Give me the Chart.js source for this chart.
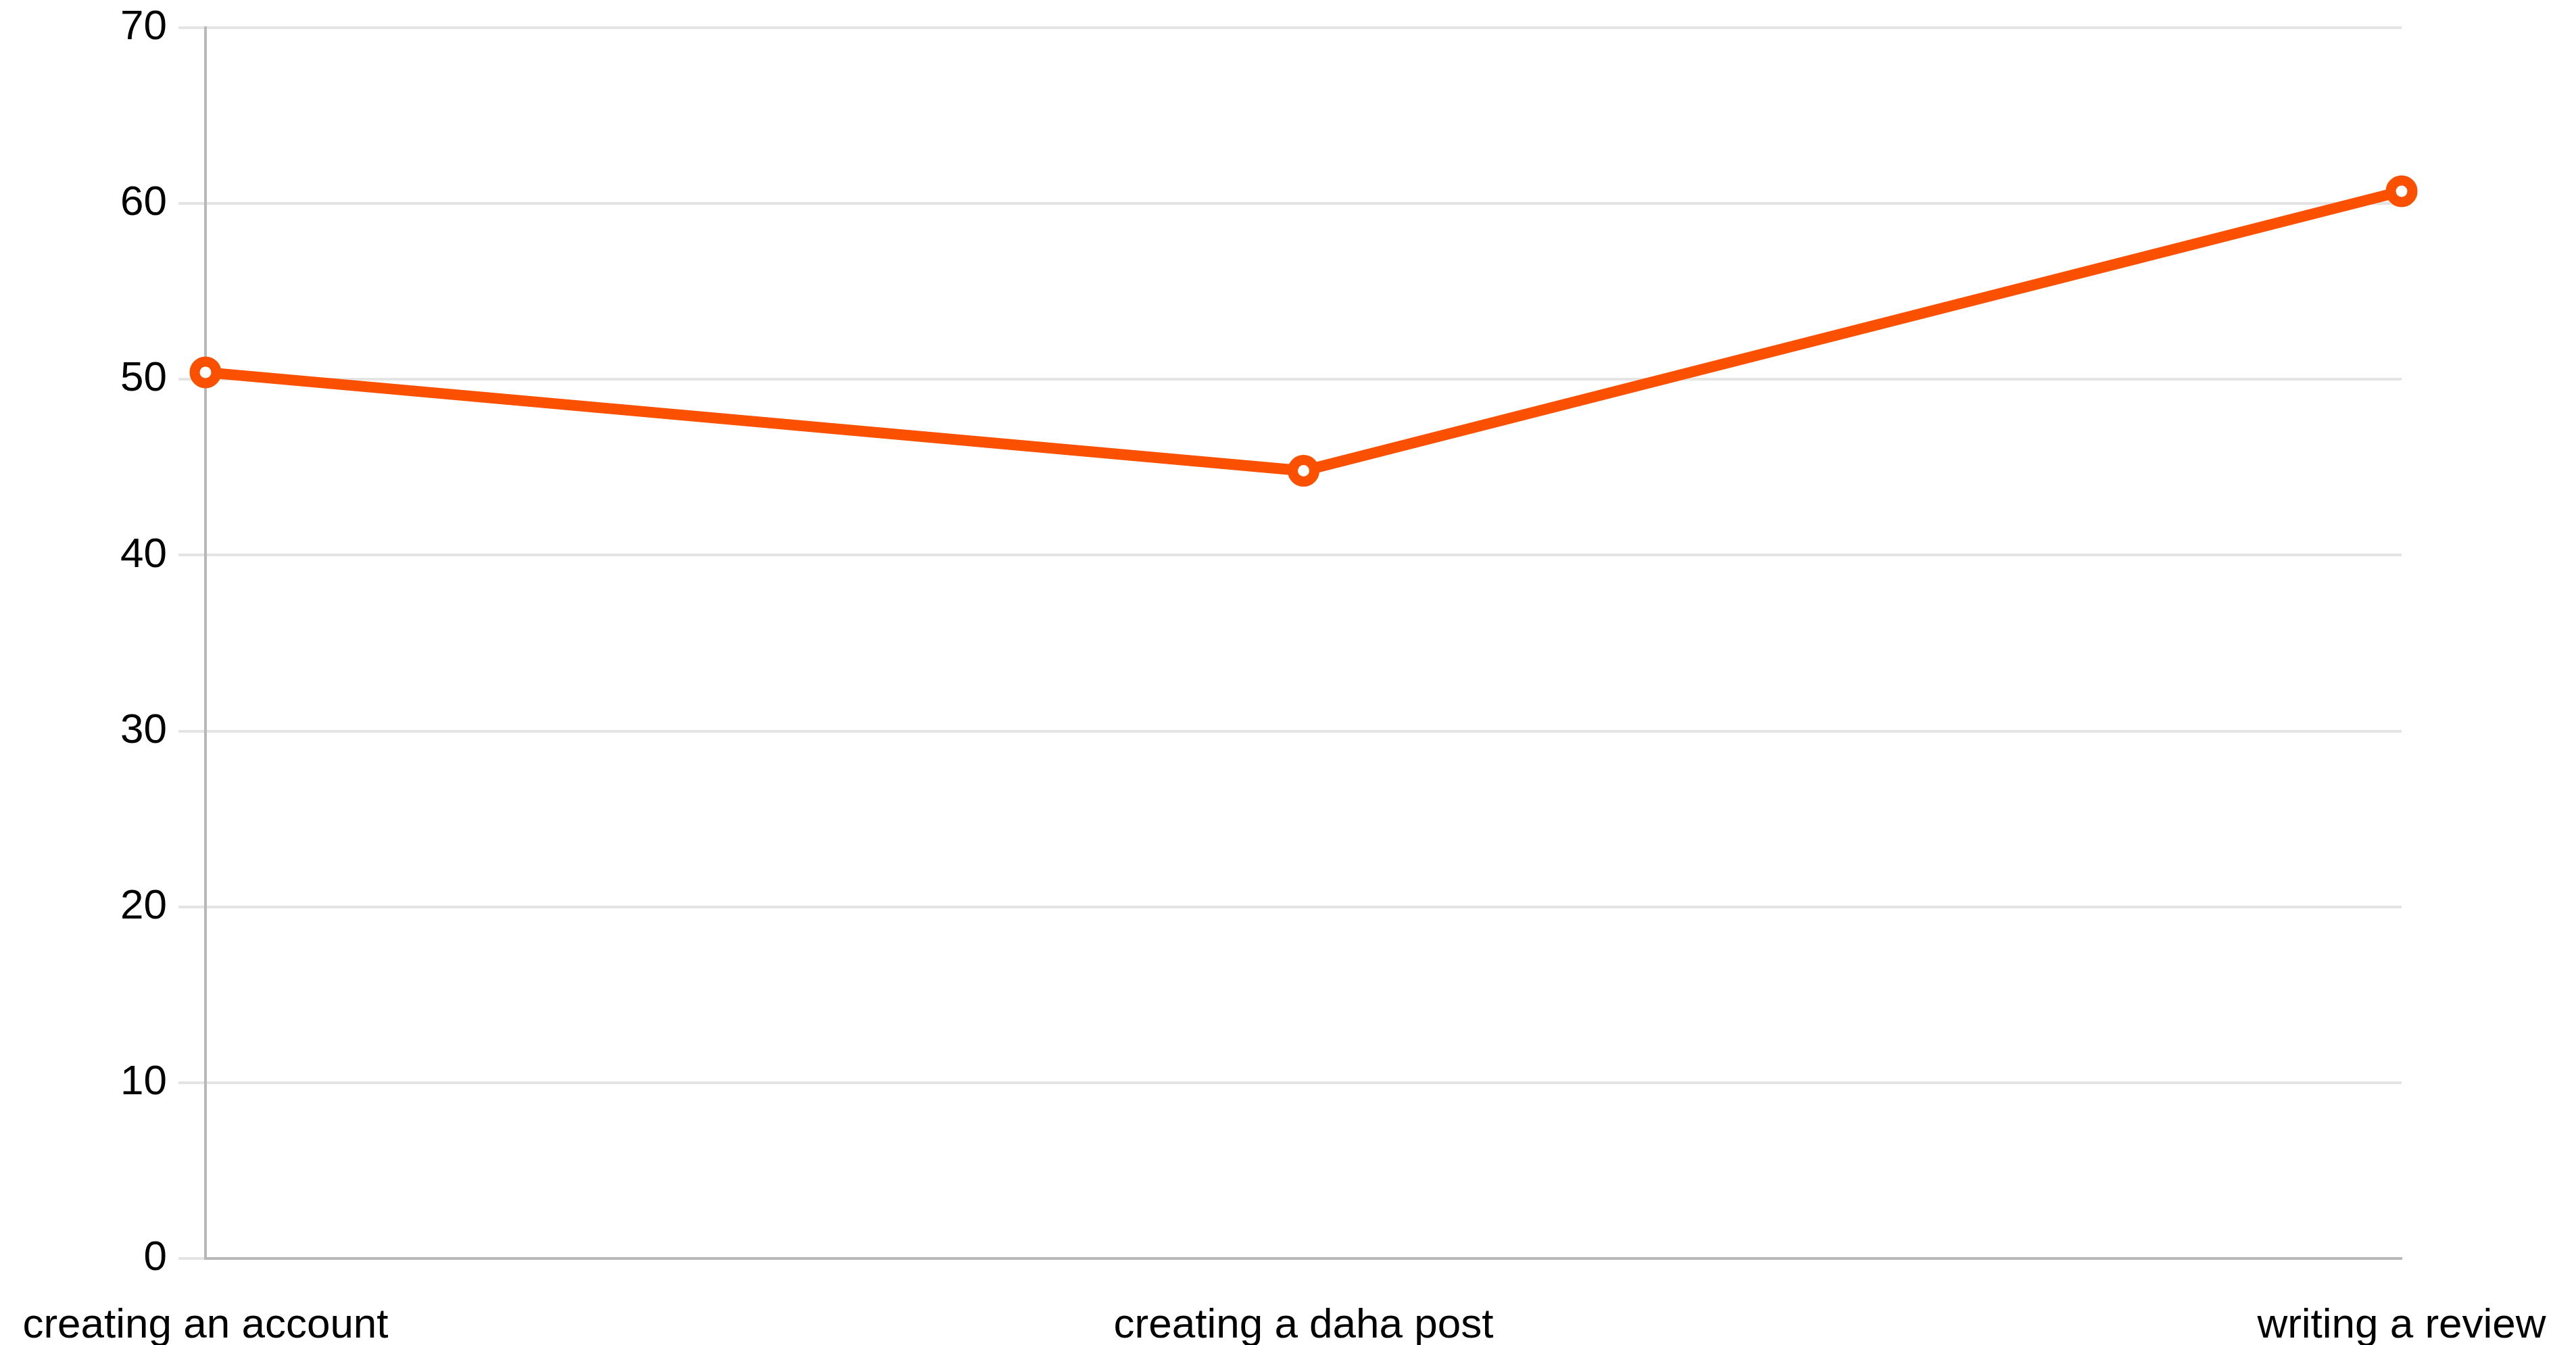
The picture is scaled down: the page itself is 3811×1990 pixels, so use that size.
<!DOCTYPE html>
<html>
<head>
<meta charset="utf-8">
<script src="https://cdn.jsdelivr.net/npm/chart.js@4"></script>
<style>
  html, body { margin: 0; padding: 0; background: #fff; }
  canvas { display: block; }
</style>
</head>
<body>
<canvas id="taskChart" width="3811" height="1990"></canvas>
<script>
// Data
const tasks = ['creating an account', 'creating a daha post', 'writing a review'];
const scores = [50.4, 44.8, 60.7];
const yTicks = [0, 10, 20, 30, 40, 50, 60, 70];

const lineColor = '#fa5000';
const gridColor = '#e4e4e4';
const axisColor = '#b8b8b8';
const fontFamily = '"Liberation Sans", Arial, Helvetica, sans-serif';

const ctx = document.getElementById('taskChart').getContext('2d');
new Chart(ctx, {
    type: 'line',
    data: {
        labels: tasks,
        datasets: [{
            data: scores,
            borderColor: lineColor,
            borderWidth: 16,
            pointRadius: 16,
            pointBorderWidth: 15,
            pointBackgroundColor: '#ffffff',
            pointBorderColor: lineColor,
            tension: 0,
            clip: false
        }]
    },
    options: {
        responsive: false,
        devicePixelRatio: 1,
        animation: false,
        layout: { autoPadding: false, padding: { left: 176, right: 258, top: 41, bottom: 0 } },
        plugins: {
            legend: { display: false },
            tooltip: { enabled: false }
        },
        scales: {
            x: {
                offset: false,
                grid: { display: false, drawTicks: false },
                border: { display: true, color: axisColor, width: 4 },
                ticks: {
                    color: '#000',
                    padding: 63,
                    maxRotation: 0,
                    autoSkip: false,
                    font: { family: fontFamily, size: 62 }
                },
                // fixed axis band so the plot ends where the reference does
                afterFit: axis => {
                    axis.height = 128;
                    axis.paddingLeft = 0;
                    axis.paddingRight = 0;
                }
            },
            y: {
                min: yTicks[0],
                max: yTicks[yTicks.length - 1],
                afterBuildTicks: axis => { axis.ticks = yTicks.map(v => ({ value: v })); },
                grid: { color: gridColor, lineWidth: 4, tickLength: 40, drawTicks: true },
                border: { display: true, color: axisColor, width: 4 },
                ticks: {
                    color: '#000',
                    padding: 17,
                    font: { family: fontFamily, size: 62 }
                },
                afterFit: axis => {
                    axis.width = 128;
                    axis.paddingTop = 0;
                    axis.paddingBottom = 0;
                }
            }
        }
    }
});
</script>
</body>
</html>
